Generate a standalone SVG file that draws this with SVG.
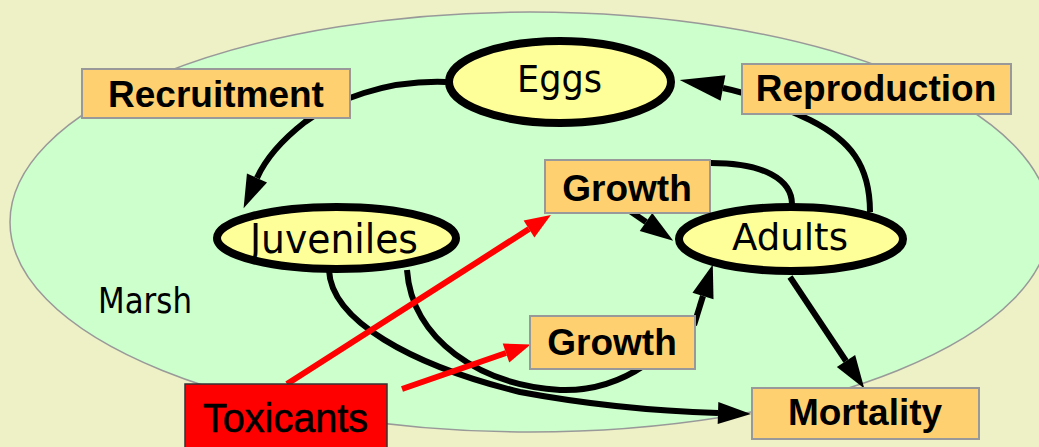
<svg xmlns="http://www.w3.org/2000/svg" width="1039" height="447" viewBox="0 0 1039 447">
<style>
.box{fill:#FFD070;stroke:#999999;stroke-width:2}
.stage{fill:#FFFF99;stroke:#000;stroke-width:8}
.bt{font-family:"Liberation Sans",Arial,sans-serif;font-weight:bold;font-size:37px;fill:#000;text-anchor:middle}
.st{font-family:"DejaVu Sans",Verdana,sans-serif;fill:#000;text-anchor:middle}
.bl{fill:none;stroke:#000;stroke-width:6}
.rd{fill:none;stroke:#FF0000;stroke-width:6}
</style>
<defs>
<marker id="ah" markerUnits="userSpaceOnUse" markerWidth="40" markerHeight="30" refX="0" refY="0" orient="auto" overflow="visible"><path d="M0,-11 L33,0 L0,11 Z" fill="#000"/></marker>
<marker id="ahBig" markerUnits="userSpaceOnUse" markerWidth="50" markerHeight="30" refX="0" refY="0" orient="auto" overflow="visible"><path d="M0,-13 L44,0 L0,13 Z" fill="#000"/></marker>
<marker id="ahRed" markerUnits="userSpaceOnUse" markerWidth="30" markerHeight="24" refX="0" refY="0" orient="auto" overflow="visible"><path d="M0,-10 L26,0 L0,10 Z" fill="#FF0000"/></marker>
</defs>
<rect x="0" y="0" width="1039" height="447" fill="#EEF0C6"/>
<g id="marsh">
<ellipse cx="530" cy="222" rx="520" ry="210" fill="#CCFFCC" stroke="#999999" stroke-width="1.5"/>
<text class="st" x="145" y="313" font-size="35" textLength="94" lengthAdjust="spacingAndGlyphs">Marsh</text>
</g>
<g id="connectors">
<path class="bl" d="M446,82 C385,80 335,100 305,122 C282,140 265,160 257,178" marker-end="url(#ah)"/>
<path class="bl" stroke-width="9" d="M870,212 C870,165 850,140 810,120 C780,106 750,93 723,88" marker-end="url(#ahBig)"/>
<path class="bl" d="M630,211 L646,222" marker-end="url(#ah)"/>
<path class="bl" stroke-width="5" d="M706,163 C765,162 793,180 792,206"/>
<path class="bl" d="M329,270 C331,320 410,365 520,392 C590,405 650,411 718,413" marker-end="url(#ah)"/>
<path class="bl" d="M407,270 C412,340 480,385 560,390 C590,391 620,382 645,365"/>
<path class="bl" d="M694,325 L703,296" marker-end="url(#ah)"/>
<path class="bl" d="M790,277 L846,361" marker-end="url(#ah)"/>
<path class="rd" d="M287,384 L529,229" marker-end="url(#ahRed)"/>
<path class="rd" d="M402,389 L506,353" marker-end="url(#ahRed)"/>
</g>
<g id="recruitment"><rect class="box" x="82" y="69" width="268" height="49"/><text class="bt" x="216" y="107">Recruitment</text></g>
<g id="reproduction"><rect class="box" x="742" y="64" width="269" height="50"/><text class="bt" x="876" y="101">Reproduction</text></g>
<g id="growth-top"><rect class="box" x="545" y="160" width="165" height="53"/><text class="bt" x="627" y="201">Growth</text></g>
<g id="growth-bottom"><rect class="box" x="530" y="316" width="165" height="53"/><text class="bt" x="612" y="355">Growth</text></g>
<g id="mortality"><rect class="box" x="752" y="388" width="227" height="51"/><text class="bt" x="865" y="425">Mortality</text></g>
<g id="toxicants"><rect x="185" y="384" width="202" height="70" fill="#FF0000" stroke="#333333" stroke-width="1.5"/><text x="285.5" y="432" font-family="Liberation Sans,Arial,sans-serif" font-size="40" fill="#000" stroke="#000" stroke-width="0.6" text-anchor="middle" textLength="165" lengthAdjust="spacingAndGlyphs">Toxicants</text></g>
<g id="eggs"><ellipse class="stage" cx="560" cy="82" rx="111" ry="41"/><text class="st" x="559.5" y="92" font-size="37" textLength="85" lengthAdjust="spacingAndGlyphs">Eggs</text></g>
<g id="juveniles"><ellipse class="stage" cx="336.5" cy="238" rx="119.5" ry="31"/><text class="st" x="334" y="253" font-size="40" textLength="168" lengthAdjust="spacingAndGlyphs">Juveniles</text></g>
<g id="adults"><ellipse class="stage" cx="791" cy="239" rx="112" ry="32"/><text class="st" x="790" y="250" font-size="38" textLength="116" lengthAdjust="spacingAndGlyphs">Adults</text></g>
</svg>
